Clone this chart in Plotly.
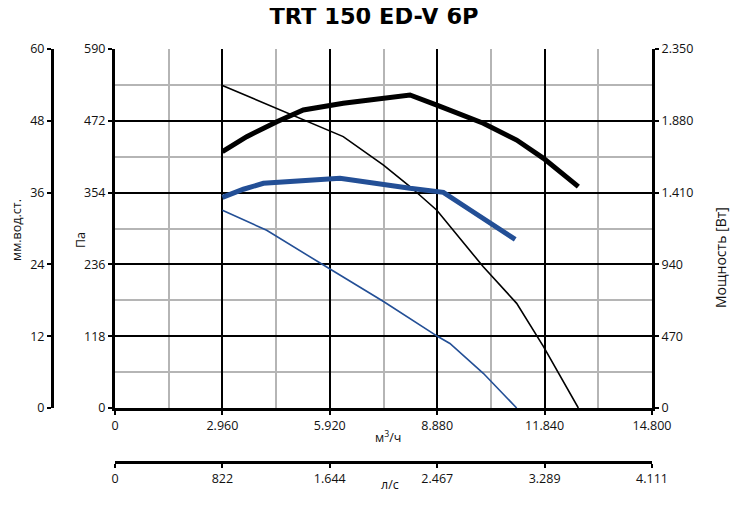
import plotly.graph_objects as go

# airflow [m3/h] and static pressure [Pa], thin lines
q_black_pa = [2960, 5000, 6290, 7400, 8130, 8870, 10150, 11070, 11810, 12770]
pa_black = [530, 479, 446, 399, 364, 325, 232, 172, 101, 0]

q_blue_pa = [2960, 4180, 5880, 7400, 8910, 9230, 10150, 11070]
pa_blue = [325, 292, 230, 175, 117, 106, 57, 0]

# airflow [m3/h] and power [W], thick lines
q_black_w = [2960, 3630, 4460, 5190, 6290, 8130, 8870, 10150, 11070, 11810, 12770]
w_black = [1678, 1776, 1874, 1951, 1995, 2049, 1983, 1864, 1754, 1634, 1449]

q_blue_w = [2960, 3540, 4090, 6200, 8130, 9050, 9790, 11030]
w_blue = [1379, 1432, 1471, 1504, 1438, 1412, 1296, 1104]

# axis ticks
x_ticks = [0, 2960, 5920, 8880, 11840, 14800]
x_labels = ["0", "2.960", "5.920", "8.880", "11.840", "14.800"]
ls_ticks = [0, 822, 1644, 2467, 3289, 4111]
ls_labels = ["0", "822", "1.644", "2.467", "3.289", "4.111"]
pa_ticks = [0, 118, 236, 354, 472, 590]
pa_labels = ["0", "118", "236", "354", "472", "590"]
mm_ticks = [0, 12, 24, 36, 48, 60]
w_ticks = [0, 470, 940, 1410, 1880, 2350]
w_labels = ["0", "470", "940", "1.410", "1.880", "2.350"]

BLUE = "#234f96"
FONT = "Open Sans"
W, H = 750, 511
OFF = 8  # page body margin in front of the plot div


def px(x):
    return (x - OFF) / W


def py(y):
    return 1 - (y - OFF) / H


fig = go.Figure()

fig.add_trace(go.Scatter(x=q_black_pa, y=pa_black, mode="lines",
                         line=dict(color="black", width=1.6), hoverinfo="skip"))
fig.add_trace(go.Scatter(x=q_blue_pa, y=pa_blue, mode="lines",
                         line=dict(color=BLUE, width=1.6), hoverinfo="skip"))
fig.add_trace(go.Scatter(x=q_black_w, y=w_black, mode="lines", yaxis="y2",
                         line=dict(color="black", width=5), hoverinfo="skip"))
fig.add_trace(go.Scatter(x=q_blue_w, y=w_blue, mode="lines", yaxis="y2",
                         line=dict(color=BLUE, width=5), hoverinfo="skip"))
# invisible traces so the extra axes get drawn
fig.add_trace(go.Scatter(x=[0], y=[0], yaxis="y3", mode="markers",
                         marker=dict(opacity=0), hoverinfo="skip"))
fig.add_trace(go.Scatter(x=[0], y=[0], xaxis="x2", mode="markers",
                         marker=dict(opacity=0), hoverinfo="skip"))

axis_common = dict(showline=True, linecolor="black", linewidth=3, automargin=False,
                   ticks="outside", ticklen=4, tickwidth=2, tickcolor="black",
                   zeroline=False, tickfont=dict(family=FONT, size=12.5, color="#111"))

fig.update_layout(
    width=W, height=H,
    margin=dict(l=0, r=0, t=0, b=0, pad=0, autoexpand=False),
    paper_bgcolor="white", plot_bgcolor="white",
    showlegend=False,
    title=dict(text="<b>TRT 150 ED-V 6P</b>", x=px(374), xanchor="center", y=1, yanchor="top",
               font=dict(family="DejaVu Sans", size=22.5, color="black")),
    xaxis=dict(domain=[px(115), px(652)], range=[0, 14800], anchor="y",
               tickvals=x_ticks, ticktext=x_labels,
               showgrid=True, gridcolor="black", gridwidth=2,
               minor=dict(tick0=0, dtick=1480, showgrid=True, gridcolor="#b5b5b5", gridwidth=2, ticks=""),
               **axis_common),
    xaxis2=dict(overlaying="x", anchor="free", position=py(462), side="bottom",
                range=[0, 4111], tickvals=ls_ticks, ticktext=ls_labels, showgrid=False,
                **axis_common),
    yaxis=dict(domain=[py(408), py(49)], range=[0, 590], anchor="x",
               tickvals=pa_ticks, ticktext=pa_labels,
               showgrid=True, gridcolor="black", gridwidth=2,
               minor=dict(tick0=0, dtick=59, showgrid=True, gridcolor="#b5b5b5", gridwidth=2, ticks=""),
               **axis_common),
    yaxis2=dict(overlaying="y", side="right", anchor="x", range=[0, 2350],
                tickvals=w_ticks, ticktext=w_labels, showgrid=False, **axis_common),
    yaxis3=dict(overlaying="y", side="left", anchor="free", position=px(52), range=[0, 60],
                tickvals=mm_ticks, showgrid=False, **axis_common),
)

title_font = dict(family=FONT, size=12.5, color="#111")
axis_titles = [
    ("м<sup>3</sup>/ч", 388, 437, 0, title_font),
    ("л/с", 390, 484, 0, title_font),
    ("Па", 80, 240, -90, title_font),
    ("мм.вод.ст.", 16, 230, -90, title_font),
    ("Мощность [Вт]", 720, 258, -90, dict(family=FONT, size=14, color="#111")),
]
for text, ax, ay, angle, font in axis_titles:
    fig.add_annotation(text=text, x=px(ax), y=py(ay), xref="paper", yref="paper",
                       xanchor="center", yanchor="middle", showarrow=False,
                       textangle=angle, font=font)

fig.write_html("out.html")
